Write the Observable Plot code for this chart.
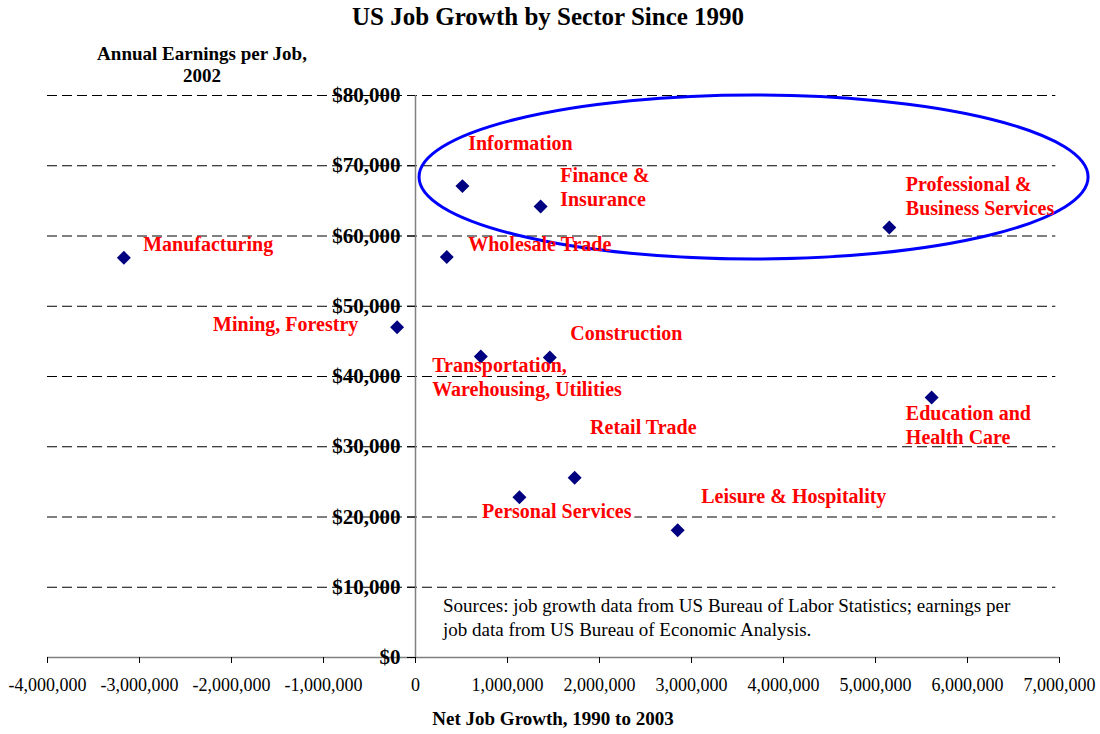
<!DOCTYPE html>
<html>
<head>
<meta charset="utf-8">
<script src="https://cdn.jsdelivr.net/npm/d3@7"></script>
<script src="https://cdn.jsdelivr.net/npm/@observablehq/plot@0.6"></script>
<style>
  html, body { margin: 0; padding: 0; background: #fff; }
  #wrap { position: relative; width: 1100px; height: 734px; font-family: "Liberation Serif", "Times New Roman", serif; }
  #wrap svg { position: absolute; left: 0; top: 0; }
  .ov { position: absolute; color: #000; white-space: nowrap; }
</style>
</head>
<body>
<div id="wrap"></div>
<script>
// ---- Data ----
const sectors = ["Manufacturing", "Information", "Finance & Insurance", "Wholesale Trade",
  "Professional & Business Services", "Mining, Forestry", "Transportation, Warehousing, Utilities",
  "Construction", "Education and Health Care", "Retail Trade", "Personal Services", "Leisure & Hospitality"];
const jobGrowth = [-3170000, 510000, 1360000, 340000, 5150000, -200000, 710000, 1460000, 5610000, 1730000, 1130000, 2850000];
const earnings = [56900, 67100, 64200, 57000, 61200, 47000, 42850, 42700, 37000, 25600, 22800, 18100];

// label text (with line breaks) and label anchors in data units
const labelText = ["Manufacturing", "Information", "Finance &\nInsurance", "Wholesale Trade",
  "Professional &\nBusiness Services", "Mining, Forestry", "Transportation,\nWarehousing, Utilities",
  "Construction", "Education and\nHealth Care", "Retail Trade", "Personal Services", "Leisure & Hospitality"];
const labelX = [-2960000, 573000, 1573000, 573000, 5330000, -2200000, 181000, 1682000, 5330000, 1898000, 724000, 3105000];
const labelY = [58900, 73400, 67100, 59000, 65850, 47600, 40050, 46350, 33250, 32850, 20750, 23150];

const xTicks = [-4000000, -3000000, -2000000, -1000000, 0, 1000000, 2000000, 3000000, 4000000, 5000000, 6000000, 7000000];
const yTicks = [0, 10000, 20000, 30000, 40000, 50000, 60000, 70000, 80000];
const gridY = [10000, 20000, 30000, 40000, 50000, 60000, 70000, 80000];

// highlight ellipse (data units)
const ellipseCenter = [3680000, 68330];
const ellipseRadii = [3636000, 11670];

const points = sectors.map((s, i) => ({sector: s, x: jobGrowth[i], y: earnings[i]}));
const labels = labelText.map((t, i) => ({text: t, x: labelX[i], y: labelY[i]}));
const labelsMain = labels.filter(d => d.text !== "Personal Services");
const labelsHalo = labels.filter(d => d.text === "Personal Services");

const fmtDollar = d => "$" + d3.format(",")(d);
const fmtX = d => d3.format(",")(d).replace("\u2212", "-");

const ellipseMark = (index, scales, values, dimensions, context) => {
  const cx = scales.x(ellipseCenter[0]), cy = scales.y(ellipseCenter[1]);
  const rx = Math.abs(scales.x(ellipseCenter[0] + ellipseRadii[0]) - cx);
  const ry = Math.abs(scales.y(ellipseCenter[1] + ellipseRadii[1]) - cy);
  const el = d3.create("svg:ellipse")
    .attr("cx", cx).attr("cy", cy).attr("rx", rx).attr("ry", ry)
    .attr("fill", "none").attr("stroke", "#0000ff").attr("stroke-width", 3);
  return el.node();
};

const chart = Plot.plot({
  width: 1100,
  height: 734,
  marginLeft: 47,
  marginRight: 41,
  marginTop: 95,
  marginBottom: 77,
  style: {fontFamily: "Liberation Serif, Times New Roman, serif", background: "white", overflow: "visible"},
  x: {type: "linear", domain: [-4000000, 7000000]},
  y: {type: "linear", domain: [0, 80000], axis: null},
  marks: [
    Plot.ruleY(gridY, {x1: -4000000, x2: 6960000, stroke: "#000", strokeWidth: 1, strokeDasharray: "10,5"}),
    Plot.ruleX([0], {y1: 0, y2: 80000, stroke: "#808080", strokeWidth: 1.5}),
    Plot.ruleY([0], {x1: -4000000, x2: 7000000, stroke: "#808080", strokeWidth: 1.5}),
    Plot.ruleY(yTicks, {x1: -87000, x2: 0, stroke: "#000", strokeWidth: 1}),
    Plot.text(yTicks, {x: 0, y: d => d, text: fmtDollar, dx: -15, textAnchor: "end", fontSize: 21, fontWeight: "bold", fill: "#000"}),
    Plot.axisX({ticks: xTicks, tickFormat: fmtX, tickSize: 6, tickPadding: 15, fontSize: 18, stroke: "#000", label: null, anchor: "bottom"}),
    ellipseMark,
    Plot.dot(points, {x: "x", y: "y", symbol: "diamond2", r: 6.3, fill: "#000080", stroke: "none"}),
    Plot.text(labelsMain, {x: "x", y: "y", text: "text", textAnchor: "start", lineAnchor: "middle", lineHeight: 1.2, fontSize: 20, fontWeight: "bold", fill: "#ff0000"}),
    Plot.text(labelsHalo, {x: "x", y: "y", text: "text", textAnchor: "start", lineAnchor: "middle", fontSize: 20, fontWeight: "bold", fill: "#ff0000", stroke: "white", strokeWidth: 7, paintOrder: "stroke"})
  ]
});

const wrap = document.getElementById("wrap");
wrap.appendChild(chart);

function overlay(html, style) {
  const d = document.createElement("div");
  d.className = "ov";
  d.innerHTML = html;
  Object.assign(d.style, style);
  wrap.appendChild(d);
  return d;
}
overlay("US Job Growth by Sector Since 1990", {left: "0", width: "1096px", textAlign: "center", top: "3px", fontSize: "25px", fontWeight: "bold"});
overlay("Annual Earnings per Job,<br>2002", {left: "52px", width: "300px", textAlign: "center", top: "43px", fontSize: "19px", fontWeight: "bold", lineHeight: "22px"});
overlay("Net Job Growth, 1990 to 2003", {left: "0", width: "1106px", textAlign: "center", top: "708px", fontSize: "19px", fontWeight: "bold"});
overlay("Sources: job growth data from US Bureau of Labor Statistics; earnings per<br>job data from US Bureau of Economic Analysis.", {left: "443px", top: "594px", fontSize: "19px", lineHeight: "24px"});
</script>
</body>
</html>
